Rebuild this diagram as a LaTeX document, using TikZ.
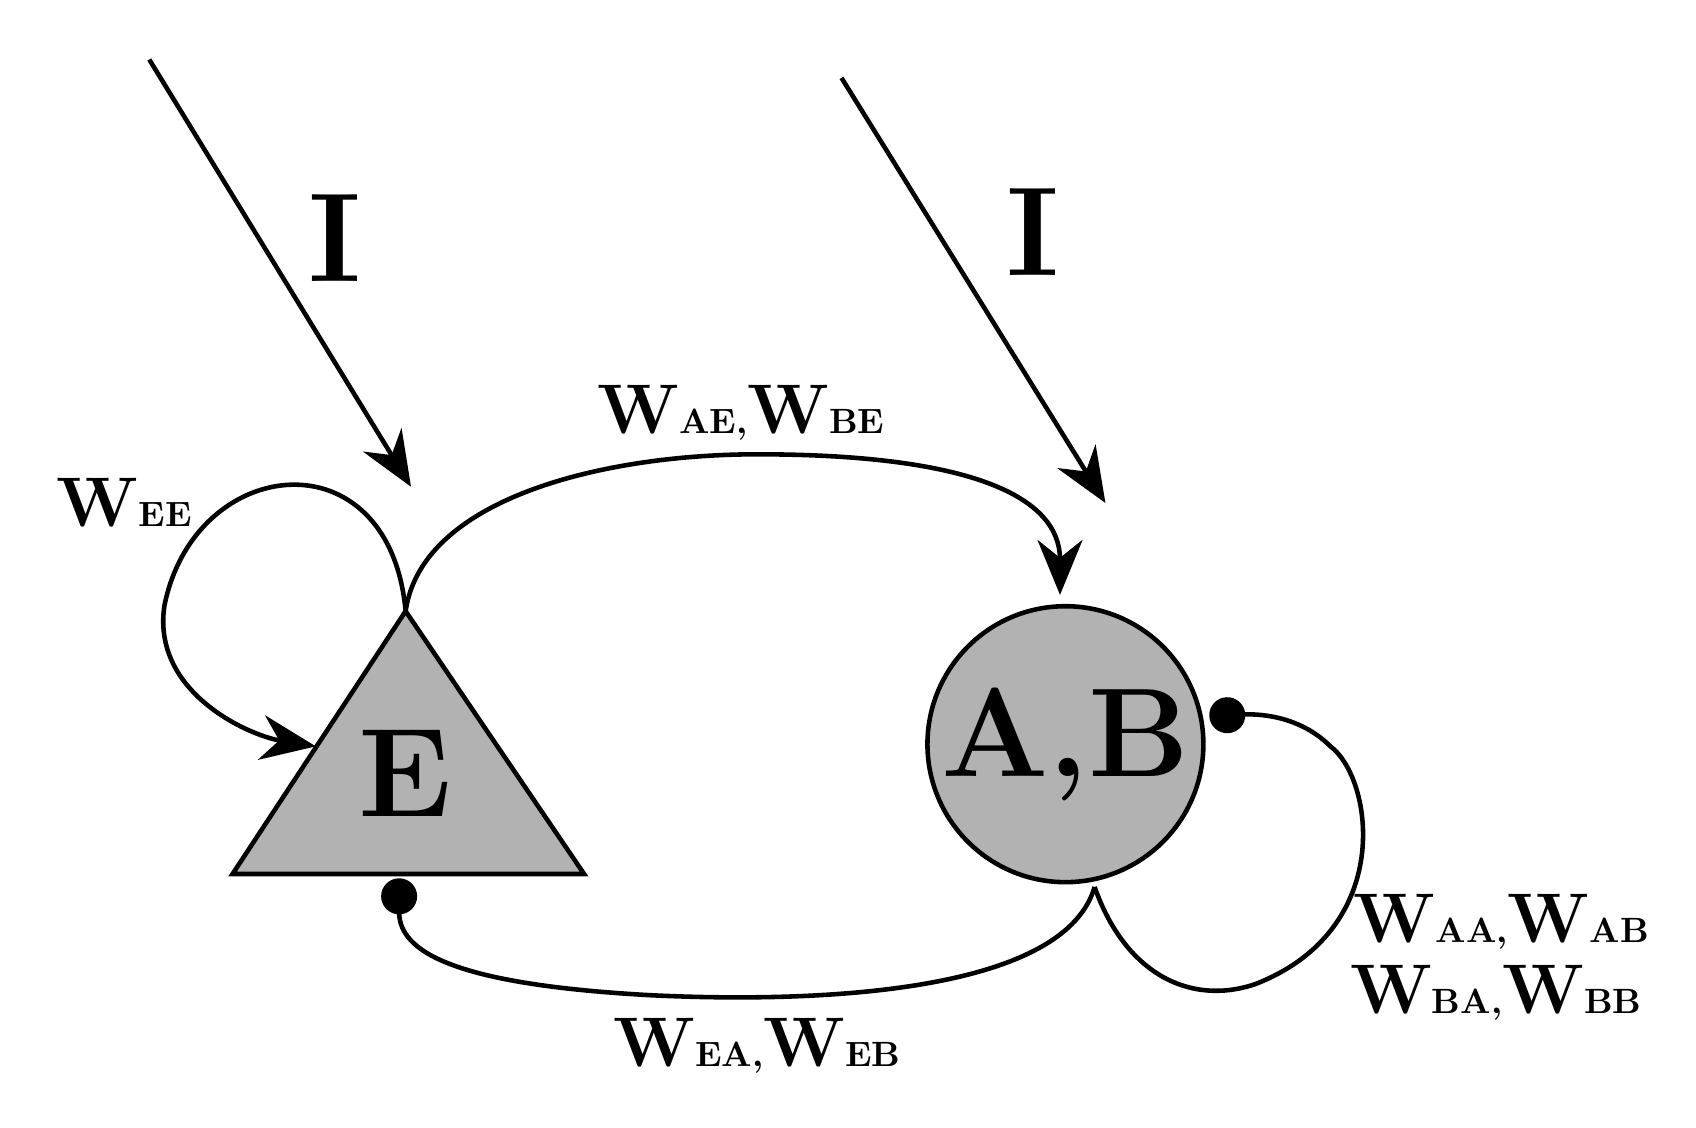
\documentclass[tikz,border=0pt]{standalone}
\usetikzlibrary{arrows.meta,shapes.geometric}
\begin{document}
\begin{tikzpicture}[x=0.01082cm, y=-0.01082cm, line width=1.3pt,
  excite/.style={arrows={-Stealth[length=5.5mm,width=4.5mm]}},
  inhib/.style={arrows={-Circle[length=3.6mm]}},
  lbl/.style={font=\fontsize{20}{24}\selectfont\bfseries, inner sep=0pt},
  big/.style={font=\fontsize{36}{40}\selectfont\bfseries}]
\useasboundingbox (0,0) rectangle (1568,1042);
\newcommand{\wsub}[2]{W{\fontsize{10}{12}\selectfont #2}}

\filldraw[fill=black!30] (375,565) coordinate (apex) -- (540,808) -- (215,808) -- cycle;
\node[big] (e) at (375,715) {E};
\node[draw, circle, fill=black!30, inner sep=0pt, minimum size=2.76cm] (ab) at (985,688) {};
\node[big] at (ab) {A,B};

%external inputs
\coordinate (i1) at (138,55);
\coordinate (i2) at (778,72);
\coordinate (t1) at (380,450);
\coordinate (t2) at (1022,465);
\draw[excite] (i1) -- (t1);
\draw[excite] (i2) -- (t2);
\node[big] at (310,220) {I};
\node[big] at (955,215) {I};

%E self-excitation
\coordinate (eleft) at (292,690);
\draw[excite] (apex) .. controls (360,400) and (180,420) .. (152,560)
  .. controls (140,640) and (230,680) .. (eleft);
\node[lbl] at (115,465) {\wsub{W}{EE}};

%E to A,B
\coordinate (abtop) at (980,550);
\draw[excite] (apex) .. controls (390,460) and (560,420) .. (700,420)
  .. controls (900,420) and (980,460) .. (abtop);
\node[lbl] at (685,382) {\wsub{W}{AE,}\wsub{W}{BE}};

%A,B to E
\coordinate (abbot) at (1012,820);
\coordinate (ebot) at (369,812);
\draw[inhib] (abbot) .. controls (980,930) and (700,925) .. (600,920)
  .. controls (420,910) and (369,880) .. (ebot);
\node[lbl] at (700,967) {\wsub{W}{EA,}\wsub{W}{EB}};

%A,B self-inhibition
\coordinate (abright) at (1118,662);
\draw[inhib] (abbot) .. controls (1040,900) and (1100,930) .. (1160,910)
  .. controls (1290,860) and (1270,720) .. (1230,690)
  .. controls (1200,660) and (1160,660) .. (abright);
\node[lbl] at (1388,852) {\wsub{W}{AA,}\wsub{W}{AB}};
\node[lbl] at (1383,918) {\wsub{W}{BA,}\wsub{W}{BB}};
\end{tikzpicture}
\end{document}
